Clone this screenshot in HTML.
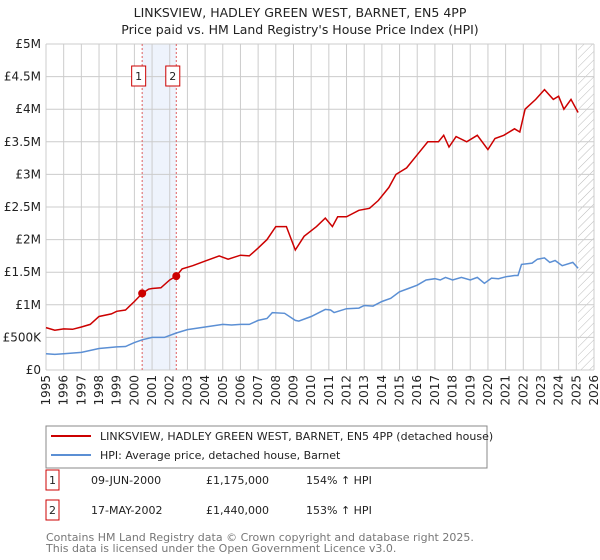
<!DOCTYPE html>
<html><head><meta charset="utf-8"><style>
body{margin:0;background:#fff;font-family:"Liberation Sans","DejaVu Sans",sans-serif;}
#wrap{position:relative;width:600px;height:560px;overflow:hidden}
svg text{font-family:"DejaVu Sans","Liberation Sans",sans-serif}
</style></head><body><div id="wrap">
<svg id="c" width="600" height="560"></svg>
</div>
<script>
const hpiYears=[1995,1995.5,1996,1997,1998,1999,1999.5,2000,2000.44,2001,2001.7,2002.37,2003,2004,2005,2005.5,2006,2006.5,2007,2007.5,2007.8,2008.5,2009.1,2009.3,2010,2010.8,2011.1,2011.3,2012,2012.7,2013,2013.5,2014,2014.5,2015,2015.5,2016,2016.5,2017,2017.3,2017.6,2018,2018.5,2019,2019.4,2019.8,2020.2,2020.6,2021,2021.5,2021.7,2021.9,2022.5,2022.8,2023.2,2023.5,2023.8,2024.2,2024.8,2025.1];
const hpiValues=[250000,240000,250000,270000,330000,355000,360000,420000,463000,500000,500000,568000,620000,660000,700000,690000,700000,700000,760000,790000,880000,870000,760000,750000,820000,930000,920000,880000,940000,950000,990000,980000,1050000,1100000,1200000,1250000,1300000,1380000,1400000,1380000,1420000,1380000,1420000,1380000,1420000,1330000,1410000,1400000,1430000,1450000,1450000,1620000,1640000,1700000,1720000,1650000,1680000,1600000,1650000,1560000];
const redYears=[1995,1995.5,1996,1996.5,1997,1997.5,1998,1998.7,1999,1999.5,2000,2000.44,2000.8,2001,2001.5,2002,2002.37,2002.7,2003.3,2004,2004.8,2005.3,2006,2006.5,2007,2007.5,2008,2008.6,2009.1,2009.6,2010.3,2010.8,2011.2,2011.5,2012,2012.7,2013.3,2013.8,2014.4,2014.8,2015.4,2016,2016.6,2017.2,2017.5,2017.8,2018.2,2018.8,2019.4,2020,2020.4,2020.9,2021.5,2021.8,2022.1,2022.7,2023.2,2023.7,2024,2024.3,2024.7,2025.1];
const redValues=[650000,610000,630000,625000,660000,700000,820000,860000,900000,920000,1050000,1175000,1240000,1250000,1260000,1380000,1440000,1550000,1600000,1670000,1750000,1700000,1760000,1750000,1870000,2000000,2200000,2200000,1840000,2050000,2200000,2330000,2200000,2350000,2350000,2450000,2480000,2600000,2800000,3000000,3100000,3300000,3500000,3500000,3600000,3420000,3580000,3500000,3600000,3380000,3550000,3600000,3700000,3650000,4000000,4150000,4300000,4150000,4200000,4000000,4150000,3950000];
const saleYears=[2000.44,2002.37];
const saleValues=[1175000,1440000];
const saleLabels=["1","2"];
const yTicks=[0,500000,1000000,1500000,2000000,2500000,3000000,3500000,4000000,4500000,5000000];
const yTickLabels=["£0","£500K","£1M","£1.5M","£2M","£2.5M","£3M","£3.5M","£4M","£4.5M","£5M"];
const xTicks=[1995,1996,1997,1998,1999,2000,2001,2002,2003,2004,2005,2006,2007,2008,2009,2010,2011,2012,2013,2014,2015,2016,2017,2018,2019,2020,2021,2022,2023,2024,2025,2026];

const L=46,R=594,T=44,B=370;
const X=y=>L+(y-1995)/31*(R-L);
const Y=v=>B-v/5000000*(B-T);
const svg=document.getElementById('c');
const NS='http://www.w3.org/2000/svg';
function mk(t,a,p){const e=document.createElementNS(NS,t);for(const k in a)e.setAttribute(k,a[k]);(p||svg).appendChild(e);return e;}

let e;
e=mk('text',{x:300,y:17,'text-anchor':'middle','font-size':'12.5',fill:'#222'});e.textContent='LINKSVIEW, HADLEY GREEN WEST, BARNET, EN5 4PP';


e=mk('text',{x:300,y:34,'text-anchor':'middle','font-size':'12.5',fill:'#222'});e.textContent="Price paid vs. HM Land Registry's House Price Index (HPI)";



e=mk('rect',{x:X(saleYears[0]),y:T,width:X(saleYears[1])-X(saleYears[0]),height:B-T,fill:'#eef3fc'});


const defs=mk('defs',{});
const pat=mk('pattern',{id:'h',width:6,height:6,patternUnits:'userSpaceOnUse',patternTransform:'rotate(45)'},defs);
mk('line',{x1:0,y1:0,x2:0,y2:6,stroke:'#bbb','stroke-width':1},pat);
e=mk('rect',{x:X(2025.1),y:T,width:R-X(2025.1),height:B-T,fill:'url(#h)'});



yTicks.forEach((v,i)=>{
 e=mk('line',{x1:L,x2:R,y1:Y(v),y2:Y(v),stroke:'#ccc','stroke-width':1});
 
 
 e=mk('text',{x:L-5,y:Y(v)+4,'text-anchor':'end','font-size':'12',fill:'#222'});e.textContent=yTickLabels[i];
 
 
});
xTicks.forEach(yr=>{
 e=mk('line',{x1:X(yr),x2:X(yr),y1:T,y2:B,stroke:'#ccc','stroke-width':1});
 
 
 e=mk('text',{x:0,y:0,'text-anchor':'end','font-size':'12',fill:'#222',transform:`translate(${X(yr)+4},${B+5}) rotate(-90)`});e.textContent=yr;
 
 
});

saleYears.forEach((yr,i)=>{
 e=mk('line',{x1:X(yr),x2:X(yr),y1:T,y2:B,stroke:'#e06060','stroke-width':1,'stroke-dasharray':'2,2'});
 
 
 const g=mk('g',{});
 
 
 const cx=X(yr)-3.5;
 mk('rect',{x:cx-7,y:66,width:14,height:20,fill:'#fff',stroke:'#c00'},g);
 const t=mk('text',{x:cx,y:80,'text-anchor':'middle','font-size':'11',fill:'#222'},g);t.textContent=saleLabels[i];
});

const path=(xs,vs)=>xs.map((x,i)=>(i?'L':'M')+X(x).toFixed(1)+','+Y(vs[i]).toFixed(1)).join('');
e=mk('path',{d:path(hpiYears,hpiValues),fill:'none',stroke:'#5b8fd4','stroke-width':1.5});


e=mk('path',{d:path(redYears,redValues),fill:'none',stroke:'#cc0000','stroke-width':1.5});


saleYears.forEach((yr,i)=>{
 e=mk('circle',{cx:X(yr),cy:Y(saleValues[i]),r:4,fill:'#cc0000'});
 
 
});

const lg=mk('g',{});


mk('rect',{x:46,y:426,width:441,height:42,fill:'#fff',stroke:'#888'},lg);
mk('line',{x1:51,x2:91,y1:436,y2:436,stroke:'#cc0000','stroke-width':2},lg);
let t=mk('text',{x:100,y:440,'font-size':'11',fill:'#222'},lg);t.textContent='LINKSVIEW, HADLEY GREEN WEST, BARNET, EN5 4PP (detached house)';
mk('line',{x1:51,x2:91,y1:455,y2:455,stroke:'#5b8fd4','stroke-width':2},lg);
t=mk('text',{x:100,y:459,'font-size':'11',fill:'#222'},lg);t.textContent='HPI: Average price, detached house, Barnet';

const rows=[["1","09-JUN-2000","£1,175,000","154% ↑ HPI"],["2","17-MAY-2002","£1,440,000","153% ↑ HPI"]];
rows.forEach((r,i)=>{
 const y=483+i*30;
 const g=mk('g',{});
 
 
 mk('rect',{x:46,y:y-13,width:13,height:20,fill:'#fff',stroke:'#c00'},g);
 let a=mk('text',{x:52.5,y:y+1,'text-anchor':'middle','font-size':'11',fill:'#222'},g);a.textContent=r[0];
 a=mk('text',{x:91,y:y+1,'font-size':'11',fill:'#222'},g);a.textContent=r[1];
 a=mk('text',{x:206,y:y+1,'font-size':'11',fill:'#222'},g);a.textContent=r[2];
 a=mk('text',{x:306,y:y+1,'font-size':'11',fill:'#222'},g);a.textContent=r[3];
});
t=mk('text',{x:46,y:541,'font-size':'11',fill:'#777'});t.textContent='Contains HM Land Registry data © Crown copyright and database right 2025.';


t=mk('text',{x:46,y:552,'font-size':'11',fill:'#777'});t.textContent='This data is licensed under the Open Government Licence v3.0.';


</script></body></html>
